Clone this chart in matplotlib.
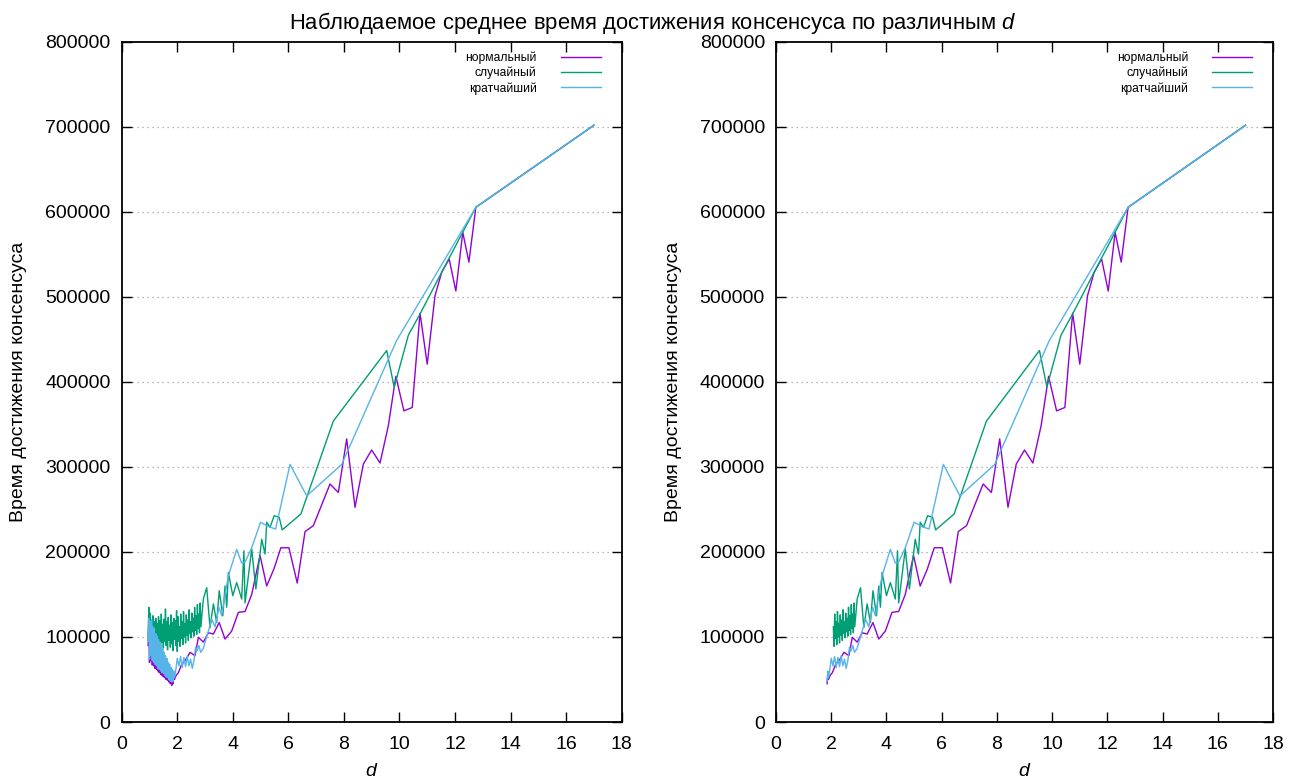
import matplotlib; matplotlib.use("Agg")
import numpy as np, matplotlib.pyplot as plt
from matplotlib.ticker import FuncFormatter

plt.rcParams["font.family"] = ["Liberation Sans", "DejaVu Sans"]
plt.rcParams["mathtext.fontset"] = "custom"
plt.rcParams["mathtext.it"] = "Liberation Sans:italic"
plt.rcParams["mathtext.rm"] = "Liberation Sans"

# values in thousands of time units
# dense part near d ~ 1..2.85 (one sample grid shared by all three series)
D_DENSE = [0.950, 0.975, 1.000, 1.025, 1.050, 1.075, 1.100, 1.125, 1.150, 1.175,
           1.200, 1.225, 1.250, 1.275, 1.300, 1.325, 1.350, 1.375, 1.400, 1.425,
           1.450, 1.475, 1.500, 1.525, 1.550, 1.575, 1.600, 1.625, 1.650, 1.675,
           1.700, 1.725, 1.750, 1.775, 1.800, 1.825, 1.850, 1.875, 1.900, 1.925,
           1.950, 1.975, 2.000, 2.025, 2.050, 2.075, 2.100, 2.125, 2.150, 2.175,
           2.200, 2.225, 2.250, 2.275, 2.300, 2.325, 2.350, 2.375, 2.400, 2.425,
           2.450, 2.475, 2.500, 2.525, 2.550, 2.575, 2.600, 2.625, 2.650, 2.675,
           2.700, 2.725, 2.750, 2.775, 2.800, 2.825, 2.850]
NORM_DENSE = [90, 115, 70, 112, 72, 108, 67, 104, 66, 100, 63, 97, 62, 94, 60, 90,
              58, 88, 56, 84, 55, 80, 53, 77, 52, 74, 50, 70, 49, 67, 47, 64, 45,
              62, 43, 60, 45, 57, 50]
SHORT_DENSE = [95, 122, 74, 118, 78, 120, 72, 112, 70, 110, 68, 104, 66, 101, 63,
               97, 62, 94, 60, 90, 58, 86, 57, 82, 55, 78, 53, 75, 52, 70, 50, 68,
               48, 64, 47, 62, 48, 60, 52]
RAND_DENSE = [100, 135, 92, 128, 96, 120, 88, 125, 95, 118, 90, 122, 97, 116, 86,
              124, 93, 119, 89, 127, 94, 115, 87, 121, 95, 133, 90, 118, 85, 123,
              96, 114, 88, 126, 92, 117, 84, 122, 97, 119, 90, 131, 83, 124, 95,
              112, 89, 127, 98, 118, 91, 130, 100, 116, 93, 126, 102, 120, 96, 132,
              104, 118, 99, 128, 106, 122, 101, 135, 108, 125, 103, 138, 110, 127,
              105, 140, 112]

# sparse part
NORM_D = [1.96, 2.04, 2.16, 2.28, 2.46, 2.64, 2.76, 2.94, 3.12, 3.30, 3.51, 3.72,
          3.96, 4.20, 4.44, 4.68, 4.98, 5.22, 5.48, 5.73, 6.02, 6.32, 6.60, 6.90,
          7.50, 7.80, 8.10, 8.40, 8.70, 9.00, 9.30, 9.60, 9.87, 10.16, 10.46,
          10.74, 11.00, 11.28, 11.52, 11.79, 12.03, 12.28, 12.50, 12.75, 17.0]
NORM_T = [55, 58, 68, 72, 82, 78, 99.6, 94, 105, 103.5, 117, 97.6, 107, 129, 130,
          150, 196, 160, 180, 205, 205, 163.5, 224, 231, 280, 270, 333, 252.6,
          303.5, 320, 304.7, 348.6, 406.7, 366, 370, 481, 421, 501.5, 529, 544.7,
          507, 576, 541, 605.5, 702]

RAND_D = [2.94, 3.06, 3.18, 3.30, 3.42, 3.51, 3.64, 3.72, 3.78, 3.84, 4.00, 4.14,
          4.32, 4.40, 4.44, 4.68, 4.83, 5.04, 5.16, 5.22, 5.34, 5.49, 5.67, 5.78,
          6.45, 7.62, 9.54, 9.81, 10.32, 10.74, 11.52, 12.75, 17.0]
RAND_T = [145, 158, 111, 139, 117, 154.5, 125, 160, 135, 176, 148.6, 164, 144.7,
          201.5, 140, 203.5, 156.5, 215, 197.6, 235, 229, 242.7, 240.8, 226,
          244.7, 354, 437, 394, 455, 480, 529, 605.5, 702]

SHORT_D = [1.95, 2.00, 2.06, 2.12, 2.18, 2.24, 2.30, 2.36, 2.42, 2.48, 2.54, 2.60,
           2.66, 2.72, 2.78, 2.84, 2.93, 3.12, 3.24, 3.36, 3.50, 3.60, 3.72, 3.84,
           4.14, 4.32, 4.44, 4.68, 5.00, 5.28, 5.54, 6.06, 6.66, 7.92, 9.90,
           12.75, 17.0]
SHORT_T = [62, 75, 66, 77, 64, 76, 65, 78, 66, 74, 63, 72, 88, 84, 90, 82, 86,
           107, 121, 112, 135, 125, 150, 172, 203, 187, 188, 205, 235, 230, 227,
           303, 266, 303, 449, 605.5, 702]

LABELS = ["нормальный", "случайный", "кратчайший"]
COLORS = ["#9400D3", "#009E73", "#56B4E9"]
RIGHT_CUT = [1.83, 2.07, 1.83]   # right panel starts later

n_short = len(NORM_DENSE)
series = [
    (np.array(D_DENSE[:n_short] + NORM_D), np.array(NORM_DENSE + NORM_T) * 1000),
    (np.array(D_DENSE + RAND_D), np.array(RAND_DENSE + RAND_T) * 1000),
    (np.array(D_DENSE[:n_short] + SHORT_D), np.array(SHORT_DENSE + SHORT_T) * 1000),
]

fig = plt.figure(figsize=(13.06, 7.83), dpi=100)
ax_l = fig.add_axes([0.0932, 0.0779, 0.3828, 0.8685])
ax_r = fig.add_axes([0.5942, 0.0779, 0.3806, 0.8685])

for ax, cut in [(ax_l, None), (ax_r, RIGHT_CUT)]:
    for i, ((x, y), lab, c) in enumerate(zip(series, LABELS, COLORS)):
        if cut is not None:
            m = x >= cut[i]
            x, y = x[m], y[m]
        ax.plot(x, y, color=c, lw=1.0, label=lab)
    ax.set_xlim(0, 18)
    ax.set_ylim(0, 800000)
    ax.set_xticks(np.arange(0, 19, 2))
    ax.set_yticks(np.arange(0, 800001, 100000))
    ax.yaxis.set_major_formatter(FuncFormatter(lambda v, p: f"{int(v)}"))
    for v in range(100000, 800000, 100000):
        ax.axhline(v, color="#a0a0a0", lw=0.9, ls=(0, (1, 3)), zorder=0)
    ax.tick_params(direction="in", top=True, right=True, length=7, width=1,
                   labelsize=14)
    ax.tick_params(axis="x", pad=10)
    ax.tick_params(axis="y", pad=8)
    for s in ax.spines.values():
        s.set_linewidth(1.3)
    ax.set_xlabel("$d$", fontsize=14)
    ax.xaxis.set_label_coords(0.5, -0.061)
    ax.set_ylabel("Время достижения консенсуса", fontsize=14)
    ax.yaxis.set_label_coords(-0.19, 0.5)
    ax.legend(loc="upper right", bbox_to_anchor=(0.975, 0.998), frameon=False,
              markerfirst=False, fontsize=8.7, handlelength=3.3, handletextpad=2.0,
              labelspacing=0.22, borderaxespad=0.3)

fig.text(0.5, 0.971, "Наблюдаемое среднее время достижения консенсуса по различным $d$",
         ha="center", va="center", fontsize=15.8)
fig.savefig("out.png", dpi=100)
